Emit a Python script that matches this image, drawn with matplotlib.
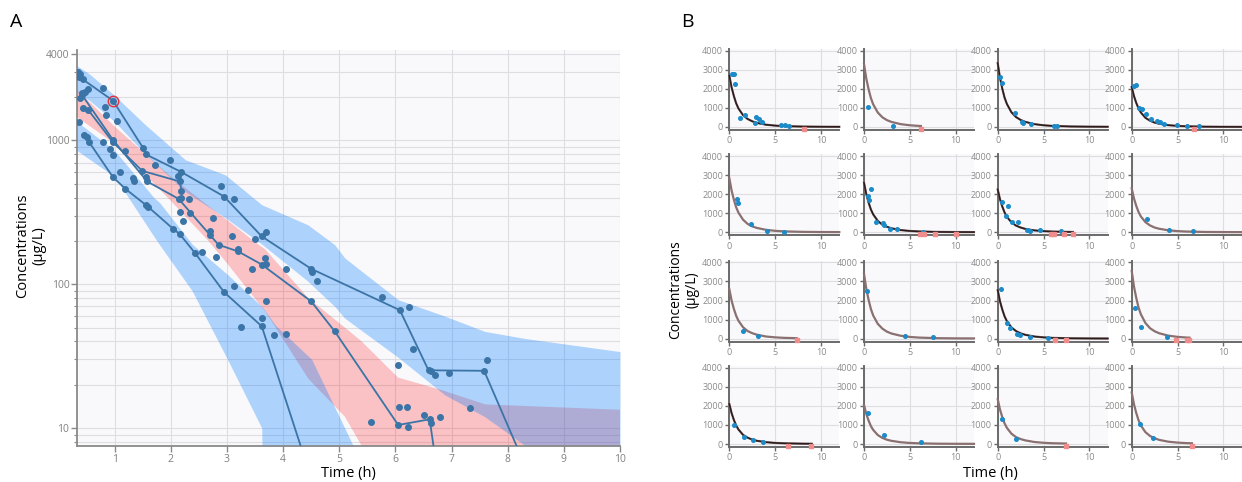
import numpy as np
import matplotlib.pyplot as plt
from matplotlib.ticker import LogLocator, NullFormatter, FixedLocator

W, H = 1242, 482

# ---------------- panel A data (VPC) ----------------
# upper band (CI of 95th percentile)
up_t = [0.33, 0.55, 1.0, 1.55, 2.26, 2.97, 3.62, 4.44, 4.92, 5.1, 6.05, 6.88, 7.59, 8.3, 10]
up_hi = [3300, 2900, 2050, 1280, 733, 576, 357, 259, 188, 152, 78, 60, 47, 42, 34]
up_lo = [2150, 1900, 1350, 800, 440, 290, 190, 105, 70, 58, 31, 17, 12, 7.6, 4]
# median band
med_t = [0.33, 1.0, 2.0, 2.67, 3.0, 3.55, 3.68, 4.45, 5.1, 5.4, 6.05, 6.8, 7.6, 10]
med_hi = [2250, 1250, 560, 350, 280, 190, 175, 80, 50, 40, 22.4, 18.5, 14.6, 13.4]
med_lo = [1450, 950, 380, 200, 140, 75, 65, 22, 12, 7.5, 3, 2, 1.5, 1]
# lower band (CI of 5th percentile)
low_t = [0.33, 1.0, 1.7, 1.8, 2.38, 3.03, 3.62, 3.65, 3.86, 4.51, 5.0, 5.25, 5.5]
low_hi = [1350, 850, 400, 370, 190, 115, 70, 68, 52, 30, 12, 7.5, 4]
low_lo = [850, 560, 215, 188, 90, 29, 10, 1, 1, 1, 1, 1, 1]

# individual profiles
s1_t = [0.36, 0.43, 0.97, 1.51, 1.55, 2.19, 2.95, 3.62, 4.5, 6.08, 6.59, 7.58, 8.6]
s1_v = [2775, 2660, 1890, 883, 802, 602, 407, 215, 128, 66, 25.2, 25, 3]
s2_t = [0.42, 0.97, 1.58, 2.14, 2.85, 3.2, 3.62, 4.5, 4.92, 6.05, 6.61, 6.78]
s2_v = [2070, 1008, 518, 392, 188, 169, 137, 76, 47, 10.5, 11.5, 4]
s3_t = [0.53, 0.97, 1.49, 2.16, 2.19]
s3_v = [1628, 972, 614, 518, 448]
s4_t = [0.45, 0.54, 0.97, 1.19, 1.55, 1.6, 2.04, 2.16, 2.43, 2.95, 3.62, 4.6]
s4_v = [1090, 981, 555, 461, 357, 344, 243, 223, 165, 88, 51, 3.4]

# other observations
obs_t = [0.80, 0.42, 0.48, 0.53, 0.39, 0.43, 0.36, 0.51, 0.82, 0.85, 1.05, 0.80, 0.91,
         0.98, 1.18, 1.10, 1.32, 1.34, 1.56, 1.72, 1.98, 2.13, 2.18, 2.32, 2.17, 2.35,
         2.21, 2.76, 2.89, 3.13, 2.69, 2.70, 3.09, 3.50, 3.69, 2.56, 2.80, 3.19, 3.67,
         3.69, 3.45, 4.05, 4.52, 4.60, 3.12, 3.38, 3.70, 3.62, 3.25, 3.84, 4.06, 5.77,
         6.24, 6.32, 6.05, 6.63, 6.70, 6.95, 7.63, 6.06, 6.20, 7.32, 5.57, 6.51, 6.79,
         6.23, 6.63, 0.34, 0.38]
obs_v = [2327, 2125, 2180, 2264, 1963, 1672, 1338, 1062, 1717, 1504, 1365, 972, 869,
         793, 846, 598, 546, 526, 558, 676, 732, 567, 397, 390, 317, 312,
         273, 288, 478, 393, 235, 220, 218, 206, 231, 167, 155, 176, 152,
         139, 128, 127, 122, 106, 97, 91, 76, 58, 50.5, 44.6, 45.3, 81,
         69.4, 35.2, 27.3, 24.8, 23.3, 24.2, 29.7, 14.0, 14.0, 13.7, 11.0, 12.3, 12.0,
         10.2, 10.9, 3000, 2900]
flag_t, flag_v = 0.97, 1890

# ---------------- panel B data (individual fits) ----------------
b_curve_t = [
    [0, 0.25, 0.5, 0.75, 1, 1.5, 2, 2.5, 3, 4, 5, 6, 8, 10, 12],
    [0, 0.25, 0.5, 0.75, 1, 1.5, 2, 2.5, 3, 4, 5, 6, 6.2],
    [0, 0.25, 0.5, 0.75, 1, 1.5, 2, 2.5, 3, 4, 5, 6, 8, 10, 12],
    [0, 0.25, 0.5, 0.75, 1, 1.5, 2, 2.5, 3, 4, 5, 6, 8, 10, 12],
    [0, 0.25, 0.5, 0.75, 1, 1.5, 2, 2.5, 3, 4, 5, 6, 8, 10, 12],
    [0, 0.25, 0.5, 0.75, 1, 1.5, 2, 2.5, 3, 4, 5, 6, 8, 10, 12],
    [0, 0.25, 0.5, 0.75, 1, 1.5, 2, 2.5, 3, 4, 5, 6, 8, 8.2],
    [0, 0.25, 0.5, 0.75, 1, 1.5, 2, 2.5, 3, 4, 5, 6, 8, 10, 12],
    [0, 0.25, 0.5, 0.75, 1, 1.5, 2, 2.5, 3, 4, 5, 6, 7.35],
    [0, 0.25, 0.5, 0.75, 1, 1.5, 2, 2.5, 3, 4, 5, 6, 8, 10, 12],
    [0, 0.25, 0.5, 0.75, 1, 1.5, 2, 2.5, 3, 4, 5, 6, 8, 10, 12],
    [0, 0.25, 0.5, 0.75, 1, 1.5, 2, 2.5, 3, 4, 5, 6, 6.3],
    [0, 0.25, 0.5, 0.75, 1, 1.5, 2, 2.5, 3, 4, 5, 6, 8, 9],
    [0, 0.25, 0.5, 0.75, 1, 1.5, 2, 2.5, 3, 4, 5, 6, 8, 10, 12],
    [0, 0.25, 0.5, 0.75, 1, 1.5, 2, 2.5, 3, 4, 5, 6, 7.45],
    [0, 0.25, 0.5, 0.75, 1, 1.5, 2, 2.5, 3, 4, 5, 6, 6.57],
]
b_curve_v = [
    [2700, 2080, 1620, 1240, 970, 620, 420, 300, 215, 120, 73, 46, 22, 14, 11],
    [3300, 2540, 1980, 1520, 1190, 760, 510, 360, 265, 150, 90, 56, 52],
    [3350, 2580, 2010, 1540, 1210, 770, 520, 370, 270, 150, 90, 57, 27, 17, 13],
    [2100, 1620, 1260, 970, 760, 480, 330, 230, 170, 95, 57, 36, 17, 11, 8],
    [2850, 2190, 1710, 1310, 1030, 660, 440, 310, 230, 130, 77, 48, 23, 14, 11],
    [2600, 2000, 1560, 1200, 940, 600, 400, 290, 210, 115, 70, 44, 21, 13, 10],
    [2250, 1730, 1350, 1040, 810, 520, 350, 250, 180, 100, 61, 38, 18, 17],
    [2300, 1770, 1380, 1060, 830, 530, 360, 250, 185, 105, 62, 39, 18, 12, 9],
    [2600, 2000, 1560, 1200, 940, 600, 400, 290, 210, 115, 70, 44, 27],
    [3400, 2620, 2040, 1560, 1220, 780, 530, 370, 270, 155, 92, 58, 27, 17, 14],
    [2550, 1960, 1530, 1170, 920, 590, 400, 280, 205, 115, 69, 43, 20, 13, 10],
    [3550, 2730, 2130, 1630, 1280, 820, 550, 390, 285, 160, 96, 60, 55],
    [2100, 1620, 1260, 970, 760, 480, 330, 230, 170, 95, 57, 36, 17, 14],
    [2050, 1580, 1230, 940, 740, 470, 320, 225, 165, 92, 55, 35, 16, 10, 8],
    [2350, 1810, 1410, 1080, 850, 540, 360, 260, 190, 105, 63, 40, 25],
    [2700, 2080, 1620, 1240, 970, 620, 420, 300, 215, 120, 73, 46, 40],
]
b_obs_t = [
    [0.25, 0.5, 0.57, 1.2, 1.7, 2.75, 2.9, 3.2, 3.6, 5.6, 6.1, 6.5],
    [0.47, 3.2],
    [0.25, 0.5, 1.94, 2.66, 2.75, 3.6, 6.1, 6.5],
    [0.26, 0.47, 0.8, 1.1, 1.53, 2.08, 2.77, 3.1, 3.5, 4.9, 6.0, 7.3],
    [0.85, 0.9, 2.36, 4.07, 6.0],
    [0.47, 0.58, 0.76, 1.3, 2.1, 2.15, 2.8, 3.6, 6.4],
    [0.43, 0.9, 1.08, 1.58, 2.16, 3.24, 3.5, 4.57, 6.9],
    [1.64, 4.05, 6.64],
    [1.52, 3.1],
    [0.29, 4.49, 7.57],
    [0.32, 0.97, 1.33, 2.12, 2.41, 3.56, 5.47],
    [0.4, 1.06, 3.83],
    [0.54, 1.6, 2.54, 3.7],
    [0.47, 2.17, 6.27],
    [0.43, 2.05],
    [0.91, 2.3],
]
b_obs_v = [
    [2760, 2760, 2250, 490, 630, 227, 500, 400, 280, 120, 105, 50],
    [1065, 70],
    [2640, 2290, 750, 262, 227, 175, 35, 35],
    [2170, 2200, 980, 925, 660, 437, 330, 262, 175, 105, 70, 52],
    [1730, 1520, 420, 70, 35],
    [1920, 1700, 2290, 560, 470, 380, 175, 157, 35],
    [1610, 870, 1380, 525, 560, 122, 70, 105, 70],
    [680, 122, 52],
    [415, 140],
    [2490, 155, 70],
    [2580, 800, 540, 240, 190, 70, 35],
    [1610, 610, 87],
    [990, 380, 190, 87],
    [1620, 470, 87],
    [1320, 243],
    [1030, 330],
]
b_blq_t = [
    [8.2], [6.2], [], [6.75],
    [], [6.1, 6.5, 7.7, 10.0], [5.8, 6.1, 7.2, 8.2], [],
    [7.35], [], [6.3, 7.45], [4.85, 6.0, 6.3],
    [6.45, 8.95], [], [7.45], [6.57],
]
blq_level = -80

# ---------------- drawing ----------------
plt.rcParams['font.family'] = ['Open Sans', 'DejaVu Sans']
fig = plt.figure(figsize=(W / 100, H / 100), dpi=100)
fig.patch.set_facecolor('white')

bg = '#f9f9fc'
grid_c = '#dedee2'
dot_c = '#3b74a6'

axA = fig.add_axes([77 / W, 1 - 446 / H, (620 - 77) / W, (446 - 50) / H])
axA.set_facecolor(bg)
axA.set_yscale('log')
axA.set_xlim(0.33, 10)
axA.set_ylim(7.5, 4250)

axA.fill_between(med_t, med_lo, med_hi, color=(1, 0, 0, 0.22), lw=0, zorder=2)
axA.fill_between(up_t, up_lo, up_hi, color=(0, 0.48, 1, 0.30), lw=0, zorder=2)
axA.fill_between(low_t, low_lo, low_hi, color=(0, 0.48, 1, 0.30), lw=0, zorder=2)

for t, v in [(s1_t, s1_v), (s2_t, s2_v), (s3_t, s3_v), (s4_t, s4_v)]:
    axA.plot(t, v, '-o', color=dot_c, lw=1.3, ms=4.0, zorder=4)
axA.plot(obs_t, obs_v, 'o', color=dot_c, ms=4.0, zorder=4)
axA.plot(flag_t, flag_v, 'o', mfc='none', mec='#e5303a', ms=7.5, mew=1.0, zorder=5)

axA.xaxis.set_major_locator(FixedLocator(range(1, 11)))
axA.yaxis.set_major_locator(FixedLocator([10, 100, 1000, 4000]))
axA.yaxis.set_minor_locator(LogLocator(base=10, subs=range(2, 10)))
axA.yaxis.set_minor_formatter(NullFormatter())
axA.set_yticklabels(['10', '100', '1000', '4000'])
axA.grid(which='both', color=grid_c, lw=0.8)
axA.set_axisbelow(True)
for s in ['top', 'right']:
    axA.spines[s].set_visible(False)
for s in ['left', 'bottom']:
    axA.spines[s].set_color('#8a8a8a')
    axA.spines[s].set_linewidth(1.3)
axA.tick_params(which='major', labelsize=7.5, labelcolor='#808080', color='#8a8a8a',
                length=4, width=1, pad=1.5)
axA.tick_params(which='minor', color='#8a8a8a', length=2.5, width=0.8)

fig.text(348 / W, 1 - 473 / H, 'Time (h)', ha='center', va='center', fontsize=10.5)
fig.text(31 / W, 1 - 246 / H, 'Concentrations\n(µg/L)', ha='center', va='center',
         rotation=90, fontsize=10.5, linespacing=1.15)
fig.text(16 / W, 1 - 22 / H, 'A', ha='center', va='center', fontsize=14)
fig.text(687 / W, 1 - 22 / H, 'B', ha='center', va='center', fontsize=14)

col_x = [729.3, 864, 997.7, 1131.7]
row_y0 = [127, 232.3, 338.7, 444]
scale = 76.3 / 4000
y_top, y_bot = 4080, -160
dark = {0, 2, 3, 5, 6, 10, 12}

for i in range(16):
    r, c = divmod(i, 4)
    top_px = row_y0[r] - y_top * scale
    bot_px = row_y0[r] - y_bot * scale
    ax = fig.add_axes([col_x[c] / W, 1 - bot_px / H, 110 / W, (bot_px - top_px) / H])
    ax.set_facecolor(bg)
    ax.set_xlim(0, 12)
    ax.set_ylim(y_bot, y_top)
    ax.set_xticks([0, 5, 10])
    ax.set_yticks([0, 1000, 2000, 3000, 4000])
    ax.grid(color=grid_c, lw=0.8)
    ax.set_axisbelow(True)
    for s in ['top', 'right']:
        ax.spines[s].set_visible(False)
    for s in ['left', 'bottom']:
        ax.spines[s].set_color('#6a6a6a')
        ax.spines[s].set_linewidth(1.4)
    ax.tick_params(labelsize=6.5, labelcolor='#8a8a8a', color='#6a6a6a', length=3, width=1, pad=1.5)

    ax.plot(b_curve_t[i], b_curve_v[i], color='#8a7070', lw=1.6, zorder=3, clip_on=False)
    if i in dark:
        ax.plot(b_curve_t[i], b_curve_v[i], color='#2a1c1c', lw=1.1, zorder=3, clip_on=False)
    ax.plot(b_obs_t[i], b_obs_v[i], 'o', color='#1c8bc9', ms=2.6, zorder=4)
    if b_blq_t[i]:
        ax.plot(b_blq_t[i], [blq_level] * len(b_blq_t[i]), 's', color='#f08c8c', ms=3,
                zorder=4, clip_on=False)

fig.text(990 / W, 1 - 473 / H, 'Time (h)', ha='center', va='center', fontsize=10.5)
fig.text(684 / W, 1 - 290 / H, 'Concentrations\n(µg/L)', ha='center', va='center',
         rotation=90, fontsize=10, linespacing=1.1)

fig.savefig('out.png', dpi=100)
